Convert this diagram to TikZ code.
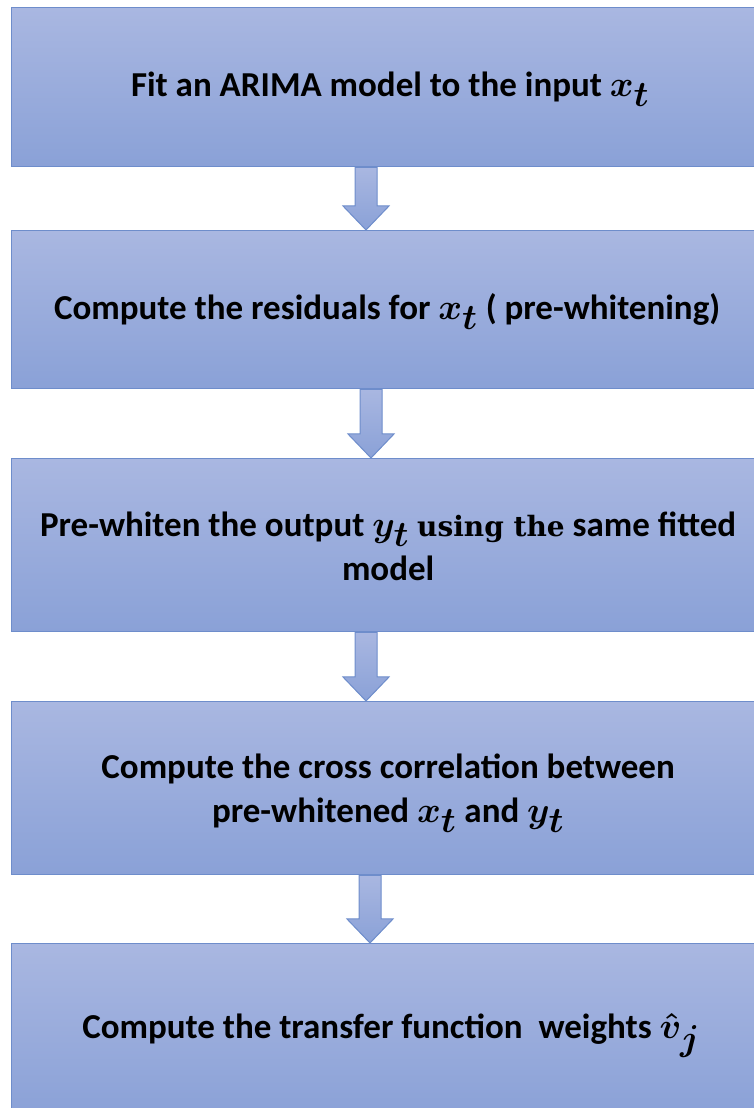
\documentclass[tikz,border=0pt]{standalone}
\usepackage{graphicx}
\usepackage{fontspec}
\setmainfont{Carlito}
\newfontfamily\serifbold{DejaVu Serif}
\usetikzlibrary{calc}

\definecolor{boxtop}{HTML}{A9B7E1}
\definecolor{boxbottom}{HTML}{8AA1D7}
\definecolor{boxedge}{HTML}{6E8DCB}

% math symbols set a little larger than the text
\newcommand\mathsym[1]{\scalebox{1.45}{\boldmath$#1$}}

\tikzset{
  stepbox/.style={draw=boxedge, line width=1.3pt, top color=boxtop, bottom color=boxbottom,
    minimum width=749pt, inner sep=0pt, anchor=north west},
  steptext/.style={font=\fontsize{35}{44}\selectfont\bfseries, align=center, text=black},
  flowarrow/.style={draw=boxedge, line width=1pt, top color=boxtop, bottom color=boxbottom,
    line join=miter}
}

% block arrow between two boxes: #1 upper box, #2 lower box, #3 x of the arrow axis
\newcommand\blockarrow[3]{%
  \path[flowarrow] let \p1=(#1.south), \p2=(#2.north) in
    (#3-11,\y1) -- (#3+11,\y1) -- (#3+11,\y2+24) -- (#3+23,\y2+24) -- (#3,\y2)
    -- (#3-23,\y2+24) -- (#3-11,\y2+24) -- cycle;}

\begin{document}
\begin{tikzpicture}[x=1pt,y=1pt]
  \useasboundingbox (0,0) rectangle (754,1108);
  \clip (0,0) rectangle (754,1108);

  % the five steps
  \node[stepbox, minimum height=159pt] (b1) at (11,1101) {};
  \node[stepbox, minimum height=158pt] (b2) at (11,878) {};
  \node[stepbox, minimum height=173pt] (b3) at (11,650) {};
  \node[stepbox, minimum height=173pt] (b4) at (11,407) {};
  \node[stepbox, minimum height=174pt] (b5) at (11,165) {};

  \node[steptext] (t1) at ([xshift=4pt,yshift=-2pt]b1.center) {Fit an ARIMA model to the input \mathsym{x_t}};
  \node[steptext] (t2) at ([xshift=1pt,yshift=-2pt]b2.center) {Compute the residuals for \mathsym{x_t} ( pre-whitening)};
  \node[steptext] (t3) at ([xshift=2pt,yshift=-1pt]b3.center)
    {Pre-whiten the output \mathsym{y_t} {\serifbold\fontsize{28}{44}\selectfont using the} same fitted\\model};
  \node[steptext] (t4) at ([xshift=2pt,yshift=-5pt]b4.center)
    {Compute the cross correlation between\\pre-whitened \mathsym{x_t} and \mathsym{y_t}};
  \node[steptext] (t5) at ([xshift=5pt,yshift=-5pt]b5.center)
    {Compute the transfer function\ \ weights \mathsym{\hat{v}_j}};

  % connectors
  \blockarrow{b1}{b2}{366}
  \blockarrow{b2}{b3}{371}
  \blockarrow{b3}{b4}{366}
  \blockarrow{b4}{b5}{370}
\end{tikzpicture}
\end{document}
